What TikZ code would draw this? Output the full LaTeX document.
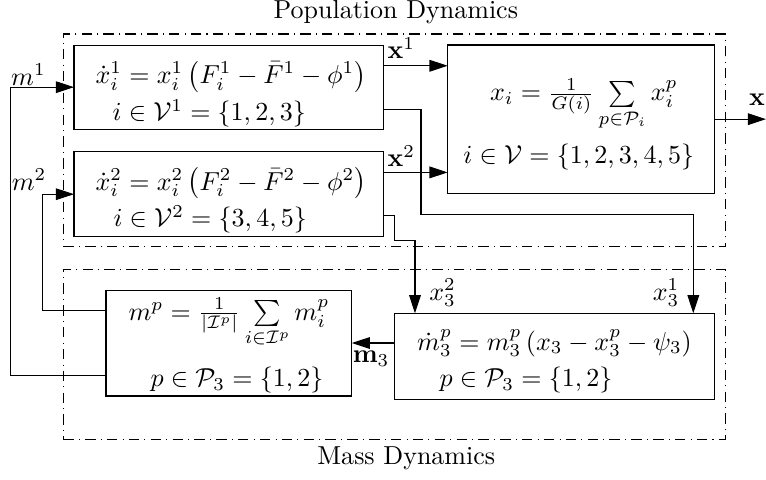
\documentclass[tikz,border=0pt]{standalone}
\usepackage{amsmath,amssymb}
\usetikzlibrary{arrows.meta}

\begin{document}
\begin{tikzpicture}[
  block/.style={draw, inner sep=0pt, outer sep=0pt},
  group/.style={draw, inner sep=0pt, outer sep=0pt, dash pattern=on 4pt off 2pt on 0.4pt off 2pt},
  conn/.style={-{Triangle[length=7pt,width=4.5pt]}},
  lbl/.style={anchor=base, inner sep=0pt},
  eq/.style={anchor=base west, inner sep=0pt}
]
\useasboundingbox (0,0) rectangle (10.351,-6.473);

% Groups
\node[group, minimum width=8.942cm, minimum height=2.875cm] (popdyn) at (5.326,-1.897) {};
\node[group, minimum width=8.942cm, minimum height=2.297cm] (massdyn) at (5.326,-4.788) {};
\node[lbl] (poptitle) at (5.349,-0.247) {Population Dynamics};
\node[lbl] (masstitle) at (5.49,-6.274) {Mass Dynamics};

% Blocks
\node[block, minimum width=4.176cm, minimum height=1.139cm] (pop1) at (3.088,-1.178) {};
\node[block, minimum width=4.176cm, minimum height=1.149cm] (pop2) at (3.088,-2.624) {};
\node[block, minimum width=3.603cm, minimum height=2.004cm] (agg) at (7.851,-1.610) {};
\node[block, minimum width=3.321cm, minimum height=1.432cm] (mp) at (3.093,-4.635) {};
\node[block, minimum width=4.325cm, minimum height=1.158cm] (m3) at (7.490,-4.813) {};

% Equations
\node[eq] (eq1a) at (1.284,-1.126) {$\dot{x}_i^1 = x_i^1 \left(F_i^1 - \bar{F}^1 - \phi^1\right)$};
\node[eq] (eq1b) at (1.514,-1.631) {$i \in \mathcal{V}^1 = \{1,2,3\}$};
\node[eq] (eq2a) at (1.284,-2.568) {$\dot{x}_i^2 = x_i^2 \left(F_i^2 - \bar{F}^2 - \phi^2\right)$};
\node[eq] (eq2b) at (1.527,-3.064) {$i \in \mathcal{V}^2 = \{3,4,5\}$};
\node[lbl] (eqaa) at (7.89,-1.361) {$x_i = \frac{1}{G(i)} \sum\limits_{p \in \mathcal{P}_i} x_i^p$};
\node[lbl] (eqab) at (7.82,-2.207) {$i \in \mathcal{V} = \{1,2,3,4,5\}$};
\node[eq] (eqpa) at (1.73,-4.324) {$m^p = \frac{1}{|\mathcal{I}^p|} \sum\limits_{i \in \mathcal{I}^p} m_i^p$};
\node[eq] (eqpb) at (2.027,-5.226) {$p \in \mathcal{P}_3 = \{1,2\}$};
\node[eq] (eqma) at (5.631,-4.73) {$\dot{m}_3^p = m_3^p \left(x_3 - x_3^p - \psi_3\right)$};
\node[eq] (eqmb) at (5.932,-5.226) {$p \in \mathcal{P}_3 = \{1,2\}$};

% Population outputs
\draw[conn] ([yshift=-0.28cm]pop1.north east) coordinate (x1s) -- (x1s -| agg.west);
\draw[conn] ([yshift=-0.28cm]pop2.north east) coordinate (x2s) -- (x2s -| agg.west);
\coordinate (xout) at (10.351,-1.610);
\draw[conn] (agg.east) -- (xout);

% Mass feedback
\draw[conn] ([yshift=0.28cm]mp.south west) -- ++(-1.297,0) |- (pop1.west);
\draw[conn] ([yshift=-0.28cm]mp.north west) -- ++(-0.864,0) |- (pop2.west);

% States to mass dynamics
\draw[conn] ([yshift=0.274cm]pop1.south east) -| ++(0.513,-1.423) -| ([xshift=-0.284cm]m3.north east);
\draw[conn] ([yshift=0.29cm]pop2.south east) -- ++(0.149,0) -- ++(0,-0.338) -| ([xshift=0.28cm]m3.north west);
\draw[conn] (m3.west |- mp.east) -- (mp.east);

% Labels
\node[eq] (lx1) at (5.23,-0.797) {$\mathbf{x}^1$};
\node[eq] (lx2) at (5.23,-2.252) {$\mathbf{x}^2$};
\node[lbl] (lx) at (10.23,-1.432) {$\mathbf{x}$};
\node[lbl] (lm1) at (0.385,-1.149) {$m^1$};
\node[lbl] (lm2) at (0.392,-2.568) {$m^2$};
\node[inner sep=0pt] (lx32) at (5.98,-3.96) {$x_3^2$};
\node[inner sep=0pt] (lx31) at (9.0,-3.96) {$x_3^1$};
\node[inner sep=0pt] (lm3) at (5.014,-4.851) {$\mathbf{m}_3$};

\end{tikzpicture}
\end{document}
